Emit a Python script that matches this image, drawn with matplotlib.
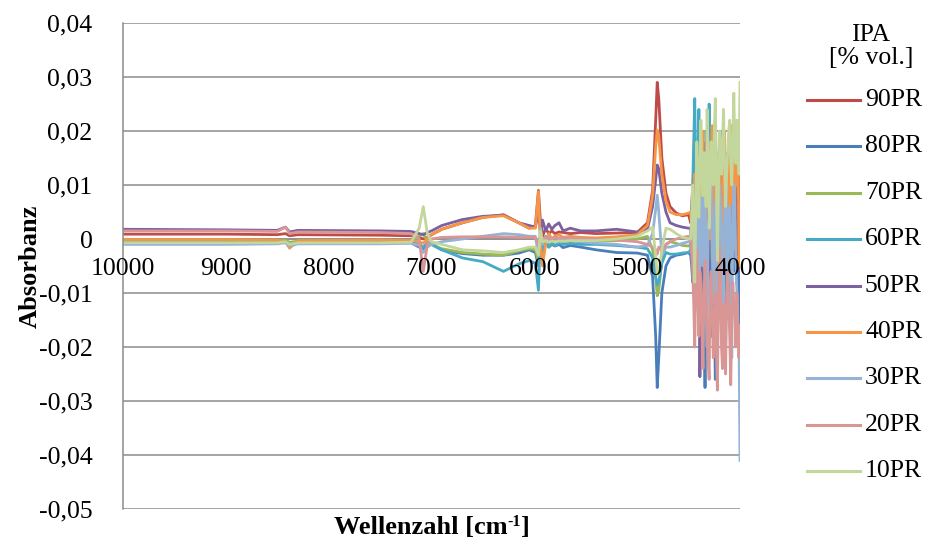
import numpy as np
import matplotlib
matplotlib.use("Agg")
import matplotlib.pyplot as plt
from matplotlib.lines import Line2D

plt.rcParams["font.family"] = ["Liberation Serif", "DejaVu Serif"]

# Wavenumber grid [cm-1]: smooth part of the spectrum, then the noisy end
wavenumber_smooth = [10000, 9000, 8500, 8420, 8380, 8300, 7500, 7200, 7120, 7080,
                     7040, 7000, 6900, 6700, 6500, 6300, 6150, 6050, 5990, 5960,
                     5940, 5920, 5890, 5860, 5830, 5800, 5760, 5720, 5650, 5550,
                     5400, 5200, 5000, 4900, 4850, 4820, 4805, 4790, 4760, 4720,
                     4680, 4620, 4560, 4500]
wavenumber_noise = list(range(4480, 3999, -10))

# Absorbance values in units of 1e-3 (smooth part, then noisy part)
pr90 = [0.9, 0.9, 0.8, 1.0, 0.6, 0.8, 0.7, 0.6, 0.3, 0.0,
        0.3, 0.8, 1.8, 3.0, 4.0, 4.5, 3.0, 2.0, 2.5, 9.0,
        3.0, 0.5, 2.0, 1.0, 1.5, 1.0, 1.3, 1.2, 1.0, 1.2,
        1.0, 1.1, 1.2, 3.0, 9.0, 22.0, 29.0, 26.0, 15.0, 8.5,
        6.0, 4.8, 4.3, 4.5]
pr90_noise = [3, 6, 10, 4, 12, 2, 15,
              8, -5, 6, 10, 1, 0, 9,
              14, 3, -8, 5, 8, 12, 3,
              16, 7, -6, 2, 12, 9, -2,
              5, 18, 10, 5, -10, 3, 10,
              14, 2, 8, 15, 6, -4, 4,
              12, 3, 8, 14, 20, 5, -15]
pr80 = [-0.6, -0.6, -0.5, -0.3, -0.9, -0.5, -0.6, -0.7, -1.5, -2.0,
        -1.2, -1.0, -2.0, -2.7, -3.0, -3.0, -2.6, -2.0, -2.5, -5.0,
        -1.0, -2.0, -0.5, -1.5, -1.0, -1.3, -1.0, -1.6, -1.2, -1.5,
        -2.0, -2.5, -2.6, -3.0, -7.0, -18.0, -27.5, -22.0, -10.0, -5.0,
        -3.5, -3.0, -2.8, -2.5]
pr80_noise = [-3, -5, -8, 2, 5, -4, -12,
              6, 10, -8, -20, 2, 4, -14,
              -27.5, -6, 6, -4, 15, 3, -18,
              -5, 0, -12, -26, 4, 8, -6,
              -12, 2, 12, -3, -8, -14, -20,
              3, 5, -6, -15, 4, 10, -2,
              -6, 6, 2, -8, -10, 4, -20]
pr70 = [-0.4, -0.4, -0.4, -0.2, -0.6, -0.4, -0.4, -0.5, 0.5, 1.0,
        -0.5, -1.0, -1.8, -2.5, -2.8, -3.0, -2.2, -1.8, -2.0, -4.0,
        0.5, -1.0, -0.2, -0.8, -0.5, -0.6, -0.3, -0.5, -0.3, -0.5,
        -0.4, -0.3, 0.0, 0.5, -2.0, -7.0, -10.5, -9.5, -4.0, -1.0,
        -0.5, -0.8, -1.2, -1.3]
pr70_noise = [-1, 2, 8, 14, 20, 6, 4,
              12, 18, 6, -2, 10, 12, 3,
              0, 15, 19, 8, 6, 14, 2,
              -4, 8, 10, 4, 2, 16, 9,
              -6, 4, 8, 14, 12, -2, 6,
              15, 8, 4, 10, 12, -3, 5,
              6, 12, 3, 9, 12, 0, 4]
pr60 = [-0.7, -0.7, -0.7, -0.5, -1.2, -0.6, -0.6, -0.6, -1.0, -1.5,
        -0.8, -1.0, -2.0, -3.5, -4.2, -6.0, -4.6, -4.0, -4.5, -9.5,
        1.5, -2.5, 0.5, -1.5, -0.8, -1.2, -0.8, -1.0, -0.8, -1.0,
        -1.0, -1.2, -1.5, -1.8, -3.5, -7.0, -8.5, -8.0, -4.5, -2.5,
        -2.8, -2.8, -2.6, -2.5]
pr60_noise = [-2, 4, 10, 18, 26, 12, 5,
              14, 24, 10, 8, 16, 6, 2,
              12, 20, 14, 10, 25, 8, 5,
              18, 10, 12, 22, 6, 0, 10,
              15, 4, 8, 20, 12, 4, 16,
              10, 12, 6, 2, 16, 8, 4,
              10, 14, 3, 8, 12, 6, 10]
pr50 = [1.8, 1.7, 1.6, 2.2, 1.3, 1.6, 1.5, 1.4, 1.0, 0.8,
        1.2, 1.5, 2.5, 3.6, 4.2, 4.4, 3.0, 2.5, 2.2, 5.0,
        1.0, 3.5, 1.5, 2.8, 1.8, 2.5, 3.0, 1.5, 2.0, 1.5,
        1.5, 1.8, 1.3, 1.8, 6.0, 11.0, 13.7, 13.0, 8.5, 5.0,
        3.0, 2.5, 2.2, 2.0]
pr50_noise = [2, -2, -6, 4, 10, -3, -8,
              6, 2, -25.5, -6, 12, 4, -5,
              8, 18, 2, -10, 0, 4, 14,
              6, -12, -4, 8, 2, -4, 10,
              16, 0, -8, 4, 6, 10, -2,
              -6, 14, 3, -6, 2, 4, 12,
              6, -3, 10, 4, 8, -6, 12]
pr40 = [-0.1, -0.1, -0.2, -0.5, -1.7, -0.3, -0.2, -0.3, -0.5, -0.8,
        0.0, 0.8, 1.8, 3.0, 4.0, 4.3, 3.0, 2.0, 2.0, 8.8,
        -1.0, -5.0, -1.0, 1.0, 0.0, 0.5, 0.8, 0.3, 0.5, 0.3,
        0.2, 0.4, 0.8, 2.5, 8.0, 17.0, 20.2, 19.0, 12.0, 7.0,
        5.0, 4.5, 4.5, 4.8]
pr40_noise = [5, 2, -3, 6, 12, 0, -12,
              4, 15, 8, 2, 12, 20, 4,
              -6, 6, 10, 18, 6, 0, 12,
              21, 3, -10, 6, 14, 8, 4,
              19, 10, -8, 4, 12, 20, 8,
              -4, 10, 16, 4, 8, 21, 12,
              -2, 6, 18, 10, 21, -5, 0]
pr30 = [-1.0, -1.0, -0.9, -0.7, -1.3, -0.9, -0.9, -0.8, -1.2, -2.5,
        -1.5, -1.0, -0.5, 0.0, 0.5, 1.0, 0.8, 0.5, 0.5, -3.0,
        2.0, -1.0, 0.3, -0.5, -0.2, -0.4, -0.2, -0.3, -0.3, -0.5,
        -0.8, -1.0, -1.5, -1.2, 1.0, 5.5, 8.1, 5.0, -3.0, -1.5,
        -1.5, -1.2, -0.8, -0.5]
pr30_noise = [0, 3, 6, -4, -10, 8, 14,
              2, -16, -4, 8, 4, -5, 6,
              12, -8, -20, 2, 4, 12, 16,
              -2, -12, 0, 6, 8, -18, -6,
              10, 6, 2, -6, -14, 4, 14,
              8, -8, 2, 6, -10, -22, 4,
              10, 6, -4, -10, -20, -18, -41]
pr20 = [1.5, 1.5, 1.4, 2.2, 1.0, 1.3, 1.2, 1.0, 0.0, -6.0,
        -1.0, 0.0, 0.3, 0.4, 0.4, 0.4, 0.3, 0.3, 0.3, -1.0,
        0.5, 0.0, 0.3, 0.1, 0.2, 0.2, 0.2, 0.2, 0.2, 0.1,
        0.0, -0.2, -0.5, -1.0, -1.5, -2.0, -2.8, -1.5, -2.2, -1.0,
        -0.5, 0.0, 0.3, 0.5]
pr20_noise = [0, -3, -6, -12, -20, -8, -2,
              -10, -18, -6, -8, -16, -24, -10,
              -4, -12, -16, -22, -26, -8, -6,
              -14, -22, -18, -10, -20, -28, -12,
              -2, -8, -20, -24, -12, -18, -25,
              -10, -6, -12, -18, -27, -15, -8,
              -12, -14, -20, -10, -16, -22, -16]
pr10 = [-0.7, -0.7, -0.7, -0.5, -1.0, -0.7, -0.7, -0.6, 2.0, 6.0,
        1.0, -0.5, -1.0, -2.0, -2.2, -2.5, -2.0, -1.5, -1.5, -3.0,
        1.5, -0.5, -0.3, -0.6, -0.4, -0.5, -0.4, -0.4, -0.3, -0.3,
        -0.3, 0.0, 0.5, 1.5, 2.2, -3.0, -6.5, -6.5, -2.0, 2.0,
        1.8, 1.0, 0.3, 0.0]
pr10_noise = [0, 4, 10, 2, -8, 6, 18,
              10, 4, 14, 22, 12, 8, 16,
              14, 6, 24, 16, 2, 10, 18,
              14, 10, 20, 26, 12, -4, 8,
              20, 16, 12, 18, 24, 14, 6,
              12, 16, 20, 22, 14, 10, 18,
              27, 16, 14, 22, 20, 12, 29]

labels = ["90PR", "80PR", "70PR", "60PR", "50PR", "40PR", "30PR", "20PR", "10PR"]
series = [(pr90, pr90_noise), (pr80, pr80_noise), (pr70, pr70_noise),
          (pr60, pr60_noise), (pr50, pr50_noise), (pr40, pr40_noise),
          (pr30, pr30_noise), (pr20, pr20_noise), (pr10, pr10_noise)]
colors = ["#BE4B48", "#4A7EBB", "#98B954", "#46AAC5", "#7D60A0",
          "#F69546", "#95B3D7", "#D99694", "#C3D69B"]

y_ticks = [0.04, 0.03, 0.02, 0.01, 0.0, -0.01, -0.02, -0.03, -0.04, -0.05]
y_tick_labels = ["0,04", "0,03", "0,02", "0,01", "0", "-0,01", "-0,02",
                 "-0,03", "-0,04", "-0,05"]
x_ticks = [10000, 9000, 8000, 7000, 6000, 5000, 4000]

W, H = 931, 543
fig = plt.figure(figsize=(W / 100, H / 100), dpi=100)
ax = fig.add_axes([123 / W, 1 - 509 / H, (740 - 123) / W, (509 - 23) / H])

wn = np.array(wavenumber_smooth + wavenumber_noise, dtype=float)
for (smooth, noise), col in zip(series, colors):
    ax.plot(wn, np.array(smooth + noise) * 1e-3, color=col, lw=2.0,
            solid_joinstyle="round")

ax.set_xlim(10000, 4000)
ax.set_ylim(-0.05, 0.04)

grid_col = "#8C8C8C"
ax.set_yticks(y_ticks)
ax.set_yticklabels(y_tick_labels, fontsize=18.5)
ax.yaxis.grid(True, color=grid_col, lw=1.1)
ax.set_axisbelow(True)
ax.tick_params(axis="y", length=0, pad=22)
ax.set_xticks([])

for s in ["top", "right", "bottom"]:
    ax.spines[s].set_visible(False)
ax.spines["left"].set_color(grid_col)
ax.spines["left"].set_linewidth(1.1)
ax.axhline(0, color=grid_col, lw=1.1, zorder=0.5)

for xt in x_ticks:
    ax.annotate(str(xt), xy=(xt, 0), xycoords="data", xytext=(0, -14),
                textcoords="offset points", ha="center", va="top", fontsize=18.5)

fig.text(30 / W, 1 - 266 / H, "Absorbanz", rotation=90, ha="center",
         va="center", fontsize=19, fontweight="bold")

# x-axis title with a raised "-1"
renderer = fig.canvas.get_renderer()
parts = [("Wellenzahl [cm", 19, 0), ("-1", 11.5, 8), ("]", 19, 0)]
texts, widths = [], []
for s, fs, dy in parts:
    t = fig.text(0, 0, s, fontsize=fs, fontweight="bold", ha="left",
                 va="baseline")
    texts.append(t)
    widths.append(t.get_window_extent(renderer).width)
x0 = 432 - sum(widths) / 2
base = H - 534
for t, w, (s, fs, dy) in zip(texts, widths, parts):
    t.set_position((x0 / W, (base + dy) / H))
    x0 += w

# Legend drawn on the figure to the right of the axes
fig.text(871 / W, 1 - 35 / H, "IPA", ha="center", va="center", fontsize=18.5)
fig.text(871 / W, 1 - 58 / H, "[% vol.]", ha="center", va="center", fontsize=18.5)
for i, (lab, col) in enumerate(zip(labels, colors)):
    yy = 1 - (100 + i * 46.4) / H
    fig.add_artist(Line2D([807 / W, 860 / W], [yy, yy], color=col, lw=2.2,
                          transform=fig.transFigure))
    fig.text(865 / W, yy, lab, ha="left", va="center", fontsize=18.5)

fig.savefig("out.png", dpi=100)
